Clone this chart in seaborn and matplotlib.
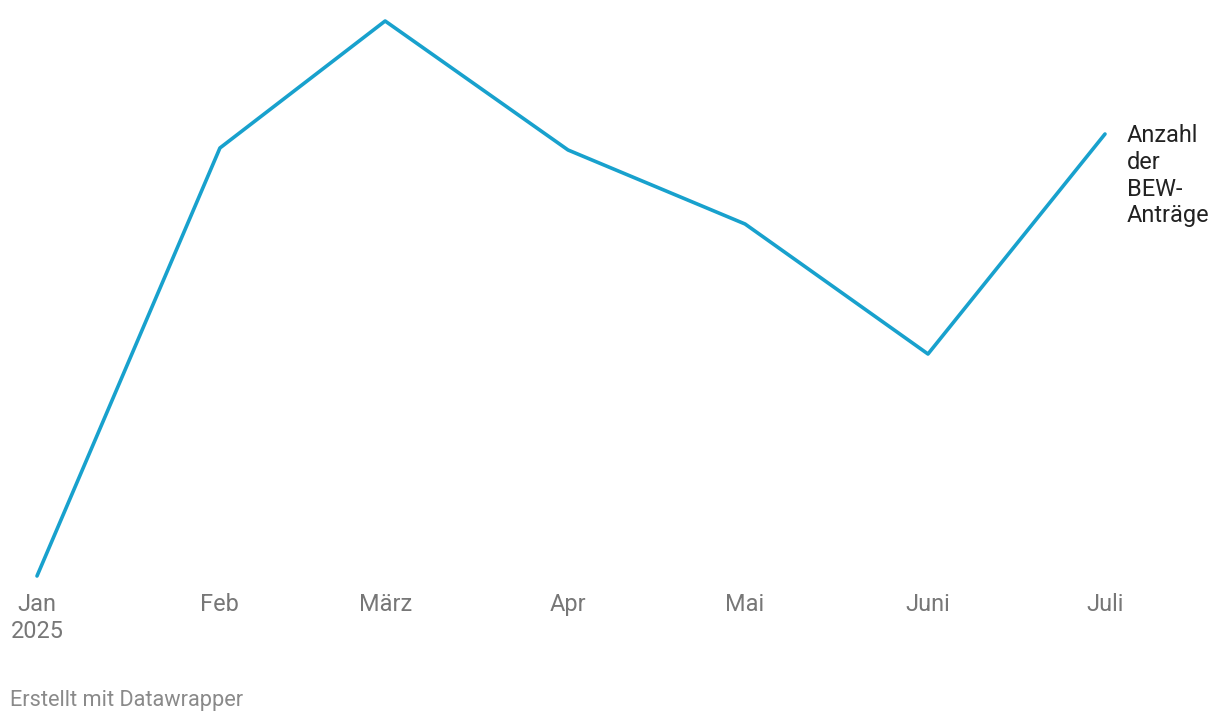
import matplotlib
matplotlib.use("Agg")
import matplotlib.pyplot as plt
import seaborn as sns
import pandas as pd

# Data (relative values; no y-axis scale shown)
months = ["2025-01-01", "2025-02-01", "2025-03-01", "2025-04-01",
          "2025-05-01", "2025-06-01", "2025-07-01"]
tick_labels = ["Jan\n2025", "Feb", "März", "Apr", "Mai", "Juni", "Juli"]
values = [0, 428, 555, 426, 352, 222, 442]
series_label = "Anzahl\nder\nBEW-\nAnträge"

df = pd.DataFrame({"date": pd.to_datetime(months), "value": values})

sns.set_style("white")
plt.rcParams["font.family"] = ["Roboto", "DejaVu Sans"]

W, H = 1220, 724
fig = plt.figure(figsize=(W / 100, H / 100), dpi=100)
left, right = 37 / W, 1105 / W
bottom, top = 1 - 576 / H, 1 - 21 / H
ax = fig.add_axes([left, bottom, right - left, top - bottom])

color = "#18a1cd"
sns.lineplot(data=df, x="date", y="value", ax=ax, color=color,
             linewidth=2.6, clip_on=False, legend=False)

ax.set_xlim(df["date"].iloc[0], df["date"].iloc[-1])
ax.set_ylim(min(values), max(values))
ax.set_xticks(df["date"])
ax.set_xticklabels(tick_labels, color="#777777", fontsize=16.9,
                   linespacing=1.22)
ax.tick_params(axis="x", length=0, pad=12.5)
ax.set_yticks([])
ax.set_xlabel("")
ax.set_ylabel("")
for s in ax.spines.values():
    s.set_visible(False)

ax.annotate(series_label, xy=(df["date"].iloc[-1], values[-1]),
            xytext=(15.5, -63.5), textcoords="offset points",
            va="baseline", ha="left", fontsize=16.9, color="#222222",
            linespacing=1.2, annotation_clip=False)

fig.text(10 / W, 1 - 706 / H, "Erstellt mit Datawrapper",
         fontsize=15.7, color="#8a8a8a", ha="left", va="baseline")

fig.savefig("out.png", dpi=100)
